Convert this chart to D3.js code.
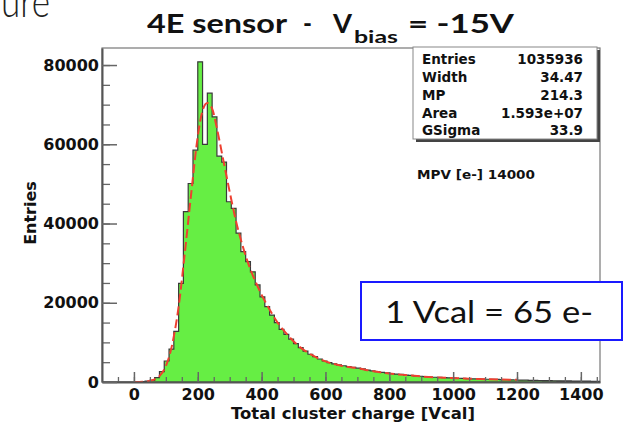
<!DOCTYPE html>
<html>
<head>
<meta charset="utf-8">
<script src="https://cdn.jsdelivr.net/npm/d3@7"></script>
<style>
  body { margin: 0; background: #fff; }
  svg { display: block; }
</style>
</head>
<body>
<svg id="chart" width="624" height="426"></svg>
<script>
// histogram: bins of 15 Vcal starting at -100
const binStart = -100
const binWidth = 15
const binCounts = [
    0, 0, 0, 0, 0, 0, 0, 0, 100, 200,
    400, 1100, 2600, 5300, 8300, 12800, 24900, 43000, 50100, 58500,
    80800, 60000, 72900, 66900, 57000, 55500, 45500, 43800, 37600, 32900,
    30400, 27800, 24500, 21500, 19000, 16900, 15000, 13300, 12000, 10800,
    9700, 8700, 7800, 7000, 6400, 5800, 5300, 4900, 4600, 4300,
    4100, 3900, 3700, 3500, 3300, 3000, 2800, 2600, 2450, 2300,
    2100, 2000, 1900, 1750, 1650, 1550, 1450, 1350, 1250, 1200,
    1150, 1100, 1050, 1000, 950, 900, 850, 800, 780, 750,
    700, 680, 640, 600, 570, 540, 500, 480, 450, 420,
    400, 380, 360, 340, 320, 300, 280, 260, 250, 240,
    220, 200, 190, 180
]

// fitted Landau x Gauss curve
const fitCharge = [0, 40, 60, 80, 100, 120, 140, 160, 180, 200, 215, 230, 245, 260, 280, 300, 320, 340, 360, 380,
    400, 420, 450, 480, 520, 560, 600, 650, 700, 750, 800, 850, 900, 950, 1000, 1050, 1100, 1150, 1200]
const fitEntries = [0, 150, 500, 1500, 4000, 9500, 19000, 33000, 48000, 62000, 68500, 70400, 69000, 64000, 56000, 48000, 40500, 34500, 29500, 25500,
    22000, 19000, 15000, 12000, 8800, 6700, 5200, 4100, 3500, 2700, 2150, 1750, 1400, 1150, 980, 830, 720, 630, 560]

const xTickValues = [0, 200, 400, 600, 800, 1000, 1200, 1400]
const yTickValues = [0, 20000, 40000, 60000, 80000]

const statLabels = ['Entries', 'Width', 'MP', 'Area', 'GSigma']
const statValues = ['1035936', '34.47', '214.3', '1.593e+07', '33.9']

const frame = { left: 102, right: 600, top: 48, bottom: 382 }
const axisFont = "'DejaVu Sans', 'Liberation Sans', sans-serif"
const titleFont = "'Lato', 'Open Sans', 'DejaVu Sans', sans-serif"

const svg = d3.select('#chart')

const x = d3.scaleLinear().domain([-100, 1460]).range([frame.left, frame.right])
const y = d3.scaleLinear().domain([0, 84300]).range([frame.bottom, frame.top])

svg.append('clipPath').attr('id', 'clip')
    .append('rect')
    .attr('x', frame.left).attr('y', frame.top)
    .attr('width', frame.right - frame.left).attr('height', frame.bottom - frame.top)

// frame
svg.append('rect')
    .attr('x', frame.left).attr('y', frame.top)
    .attr('width', frame.right - frame.left).attr('height', frame.bottom - frame.top)
    .attr('fill', 'none').attr('stroke', '#777').attr('stroke-width', 1.2)

// histogram as a step polygon
const steps = [[binStart, 0]]
binCounts.forEach((c, i) => {
    const lo = binStart + i * binWidth
    steps.push([lo, c], [lo + binWidth, c])
})
steps.push([binStart + binCounts.length * binWidth, 0])

const stepLine = d3.line().x(d => x(d[0])).y(d => y(d[1]))
const plot = svg.append('g').attr('clip-path', 'url(#clip)')
plot.append('path')
    .attr('d', stepLine(steps) + 'Z')
    .attr('fill', '#66ee44')
    .attr('stroke', '#3a3a3a')
    .attr('stroke-width', 1.2)

// fit curve
const fitLine = d3.line()
    .x((d, i) => x(fitCharge[i]))
    .y(d => y(d))
    .curve(d3.curveMonotoneX)
plot.append('path')
    .attr('d', fitLine(fitEntries))
    .attr('fill', 'none')
    .attr('stroke', '#ee4030')
    .attr('stroke-width', 2)
    .attr('stroke-dasharray', '9,4')

// minor ticks
svg.append('g')
    .attr('transform', `translate(0,${frame.bottom})`)
    .call(d3.axisBottom(x).tickValues(d3.range(-50, 1460, 50)).tickSize(-5).tickFormat('').tickSizeOuter(0))
    .call(g => g.select('.domain').remove())
    .call(g => g.selectAll('line').attr('stroke', '#666').attr('stroke-width', 1.3))
svg.append('g')
    .attr('transform', `translate(${frame.left},0)`)
    .call(d3.axisLeft(y).tickValues(d3.range(5000, 84300, 5000)).tickSize(-8).tickFormat('').tickSizeOuter(0))
    .call(g => g.select('.domain').remove())
    .call(g => g.selectAll('line').attr('stroke', '#666').attr('stroke-width', 1.3))

// major axes
const xAxis = svg.append('g')
    .attr('transform', `translate(0,${frame.bottom})`)
    .call(d3.axisBottom(x).tickValues(xTickValues).tickSize(-10).tickSizeOuter(0).tickPadding(6.5).tickFormat(d3.format('d')))
const yAxis = svg.append('g')
    .attr('transform', `translate(${frame.left},0)`)
    .call(d3.axisLeft(y).tickValues(yTickValues).tickSize(-15).tickSizeOuter(0).tickPadding(3).tickFormat(d3.format('d')))

;[xAxis, yAxis].forEach(g => {
    g.select('.domain').attr('stroke', '#555').attr('stroke-width', 2)
    g.selectAll('line').attr('stroke', '#666').attr('stroke-width', 1.5)
    g.selectAll('text')
        .attr('fill', '#111')
        .style('font-family', axisFont)
        .style('font-weight', 'bold')
        .style('font-size', '16px')
})

// axis titles
svg.append('text')
    .attr('x', 353).attr('y', 419)
    .attr('text-anchor', 'middle')
    .attr('textLength', 244).attr('lengthAdjust', 'spacingAndGlyphs')
    .style('font-family', axisFont).style('font-weight', 'bold').style('font-size', '16px')
    .attr('fill', '#111')
    .text('Total cluster charge [Vcal]')

svg.append('text')
    .attr('transform', 'translate(36,213) rotate(-90)')
    .attr('text-anchor', 'middle')
    .style('font-family', axisFont).style('font-weight', 'bold').style('font-size', '16px')
    .attr('fill', '#111')
    .text('Entries')

// stats box
const stats = { x: 413, y: 47, w: 184, h: 92 }
svg.append('rect')
    .attr('x', stats.x + 3).attr('y', stats.y + 3)
    .attr('width', stats.w).attr('height', stats.h)
    .attr('fill', '#444')
svg.append('rect')
    .attr('x', stats.x).attr('y', stats.y)
    .attr('width', stats.w).attr('height', stats.h)
    .attr('fill', '#fff').attr('stroke', '#888').attr('stroke-width', 1)

const statRowY = [64, 82, 100, 118, 135]
const statRows = svg.append('g')
    .style('font-family', axisFont).style('font-weight', 'bold').style('font-size', '13.5px')
    .attr('fill', '#111')
statRows.selectAll('.stat-label')
    .data(statLabels)
    .join('text')
    .attr('class', 'stat-label')
    .attr('x', stats.x + 9)
    .attr('y', (d, i) => statRowY[i])
    .text(d => d)
statRows.selectAll('.stat-value')
    .data(statValues)
    .join('text')
    .attr('class', 'stat-value')
    .attr('x', stats.x + stats.w - 14)
    .attr('y', (d, i) => statRowY[i])
    .attr('text-anchor', 'end')
    .text(d => d)

svg.append('text')
    .attr('x', 417).attr('y', 179)
    .attr('textLength', 118).attr('lengthAdjust', 'spacingAndGlyphs')
    .style('font-family', axisFont).style('font-weight', 'bold').style('font-size', '12.5px')
    .attr('fill', '#111')
    .text('MPV [e-]  14000')

// conversion note
svg.append('rect')
    .attr('x', 361).attr('y', 282)
    .attr('width', 261).attr('height', 58)
    .attr('fill', '#fff').attr('stroke', '#1a1aff').attr('stroke-width', 2)
svg.append('text')
    .attr('x', 385).attr('y', 323)
    .attr('textLength', 208).attr('lengthAdjust', 'spacingAndGlyphs')
    .style('font-family', titleFont).style('font-size', '31px')
    .attr('fill', '#111')
    .text('1 Vcal = 65 e-')

// slide title fragment and chart title
svg.append('text')
    .attr('x', 1).attr('y', 17)
    .attr('textLength', 49).attr('lengthAdjust', 'spacingAndGlyphs')
    .style('font-family', titleFont).style('font-weight', 300).style('font-size', '44px')
    .attr('fill', '#222')
    .text('ure')

const titleParts = [
    { text: '4E sensor', x: 147, y: 33, len: 140, size: 26 },
    { text: '-', x: 303, y: 33, len: 9, size: 26 },
    { text: 'V', x: 333, y: 33, len: 19, size: 26 },
    { text: 'bias', x: 354, y: 43, len: 44, size: 17 },
    { text: '= -15V', x: 408, y: 33, len: 106, size: 26 }
]
svg.selectAll('.title-part')
    .data(titleParts)
    .join('text')
    .attr('class', 'title-part')
    .attr('x', d => d.x).attr('y', d => d.y)
    .attr('textLength', d => d.len).attr('lengthAdjust', 'spacingAndGlyphs')
    .style('font-family', titleFont).style('font-weight', 'bold')
    .style('font-size', d => d.size + 'px')
    .attr('fill', '#111')
    .text(d => d.text)
</script>
</body>
</html>
